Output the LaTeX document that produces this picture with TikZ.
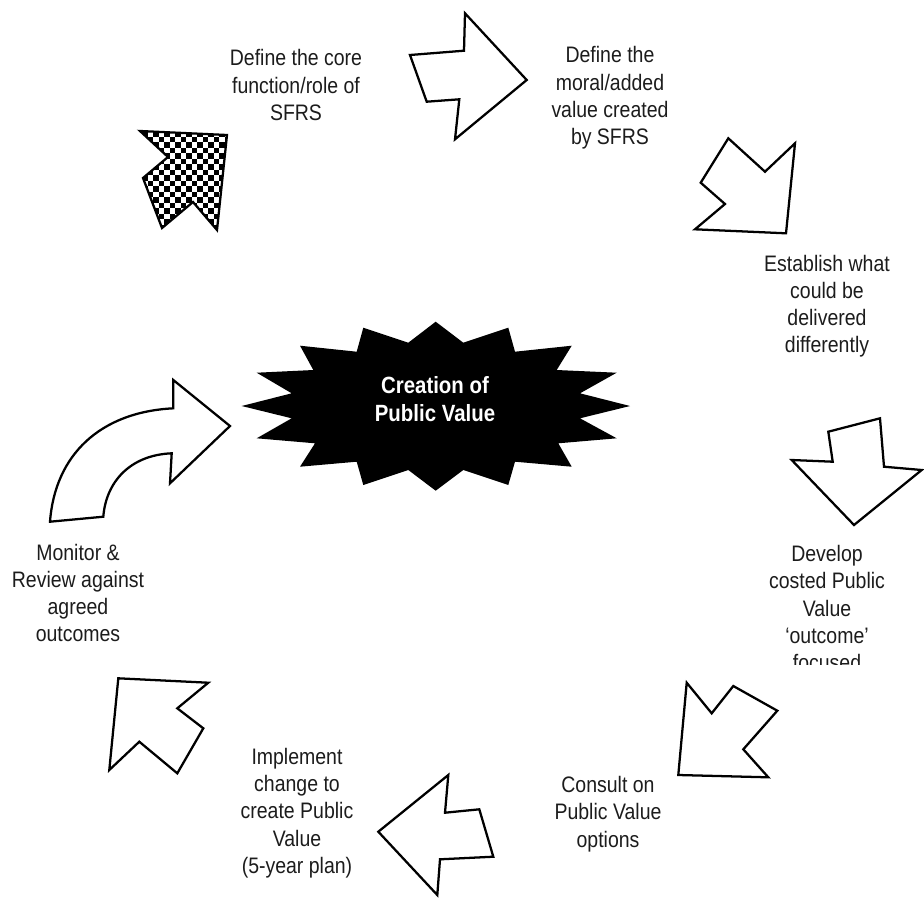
\documentclass[tikz,border=0pt]{standalone}
\usepackage{fontspec}
\setmainfont{Liberation Sans}[FakeStretch=0.87]
\definecolor{ink}{HTML}{1C1C1C}
\tikzset{
  arrowshape/.style={draw=black, fill=white, line width=1.7pt, line join=miter},
  lbl/.style={align=center, text=ink, inner sep=0pt, font=\fontsize{16.8}{20.4}\selectfont},
  starlbl/.style={align=center, text=white, inner sep=0pt, font=\bfseries\fontsize{17.6}{21}\selectfont}
}
\begin{document}
\begin{tikzpicture}[x=0.75pt,y=-0.75pt]
\useasboundingbox (0,0) rectangle (924,897);

% central star
\fill[black] (435.7,321.7) -- (463.3,342.7) -- (508.3,327.7) -- (515,351.7) -- (571.7,345.7) -- (556.7,370) -- (616.7,372.7) -- (580,393.3) -- (630,406) -- (580,418.3) -- (616.7,438.3) -- (558.3,443.3) -- (571.7,466.7) -- (515,461.7) -- (508.3,485) -- (463.3,470) -- (435.7,490.7) -- (408.3,470) -- (363.3,485) -- (356.7,461.7) -- (300,466.7) -- (315,443.3) -- (256.7,438.3) -- (291.7,418.3) -- (241.7,406) -- (291.7,393.3) -- (256.7,372.7) -- (313.3,370) -- (300,345.7) -- (356.7,351.7) -- (363.3,327.7) -- (408.3,342.7) -- cycle;
\node[starlbl] (star) at (435,399) {Creation of\\Public Value};

% checkered arrow (upper left)
\begin{scope}
  \clip (227,135) -- (140,131) -- (168,157) -- (143,178) -- (162,228) -- (193,202) -- (217,230) -- cycle;
  \fill[white] (120,120) rectangle (240,240);
  \foreach \i in {0,...,11} {
    \foreach \j in {0,...,11} {
      \fill[black] (120+11*\i,120+11*\j) rectangle ++(5.5,5.5);
      \fill[black] (125.5+11*\i,125.5+11*\j) rectangle ++(5.5,5.5);
    }
  }
\end{scope}
\draw[line width=1.7pt, line join=miter] (227,135) -- (140,131) -- (168,157) -- (143,178) -- (162,228) -- (193,202) -- (217,230) -- cycle;

% top arrow (right)
\draw[arrowshape] (410,55) -- (464,50.7) -- (465,13.3) -- (526.7,80) -- (455,139.3) -- (459.3,99.3) -- (426.7,101.7) -- cycle;

% upper right arrow (down-right)
\draw[arrowshape] (728.3,138.3) -- (765,171.7) -- (795,143.3) -- (786,233.3) -- (695,229.3) -- (725,204) -- (700.7,182.7) -- cycle;

% right arrow (down)
\draw[arrowshape] (828.3,431.7) -- (880,418.3) -- (884,466.7) -- (921.7,470) -- (854,525) -- (791.7,460) -- (832.7,461.7) -- cycle;

% lower right arrow (down-left)
\draw[arrowshape] (686.7,682.7) -- (711.7,713.3) -- (733.3,686) -- (777.3,710.7) -- (743.3,749.3) -- (768.3,777.3) -- (678.3,775) -- cycle;

% bottom arrow (left)
\draw[arrowshape] (448.3,775) -- (445,812.7) -- (479.3,809.3) -- (493.3,856.7) -- (440,859.3) -- (437.3,895) -- (378.3,831.7) -- cycle;

% lower left arrow (up-left)
\draw[arrowshape] (118.3,678.3) -- (208.3,682.7) -- (177.3,708.3) -- (203.3,728.3) -- (177.3,773.3) -- (139.3,741.7) -- (109.3,770) -- cycle;

% curved arrow (left, towards star)
\draw[arrowshape] (50,521.7) -- (103.3,516.7) .. controls (106,482) and (130,455) .. (171.7,453.3) -- (170,483.3) -- (230,426) -- (173.3,380) -- (173.3,408.3) .. controls (100,412) and (55,455) .. (50,521.7) -- cycle;

% labels
\node[lbl] (t1) at (296,85) {Define the core\\function/role of\\SFRS};
\node[lbl] (t2) at (610,98) {Define the\\moral/added\\value created\\by SFRS};
\node[lbl] (t3) at (827,306) {Establish what\\could be\\delivered\\differently};
\begin{scope}
  \clip (700,500) rectangle (924,664);
  \node[lbl] (t4) at (827,608) {Develop\\costed Public\\Value\\`outcome'\\focused};
\end{scope}
\node[lbl] (t5) at (608,814) {Consult on\\Public Value\\options};
\node[lbl] (t6) at (297,813) {Implement\\change to\\create Public\\Value\\(5-year plan)};
\node[lbl] (t7) at (78,593) {Monitor \&\\Review against\\agreed\\outcomes};
\end{tikzpicture}
\end{document}
